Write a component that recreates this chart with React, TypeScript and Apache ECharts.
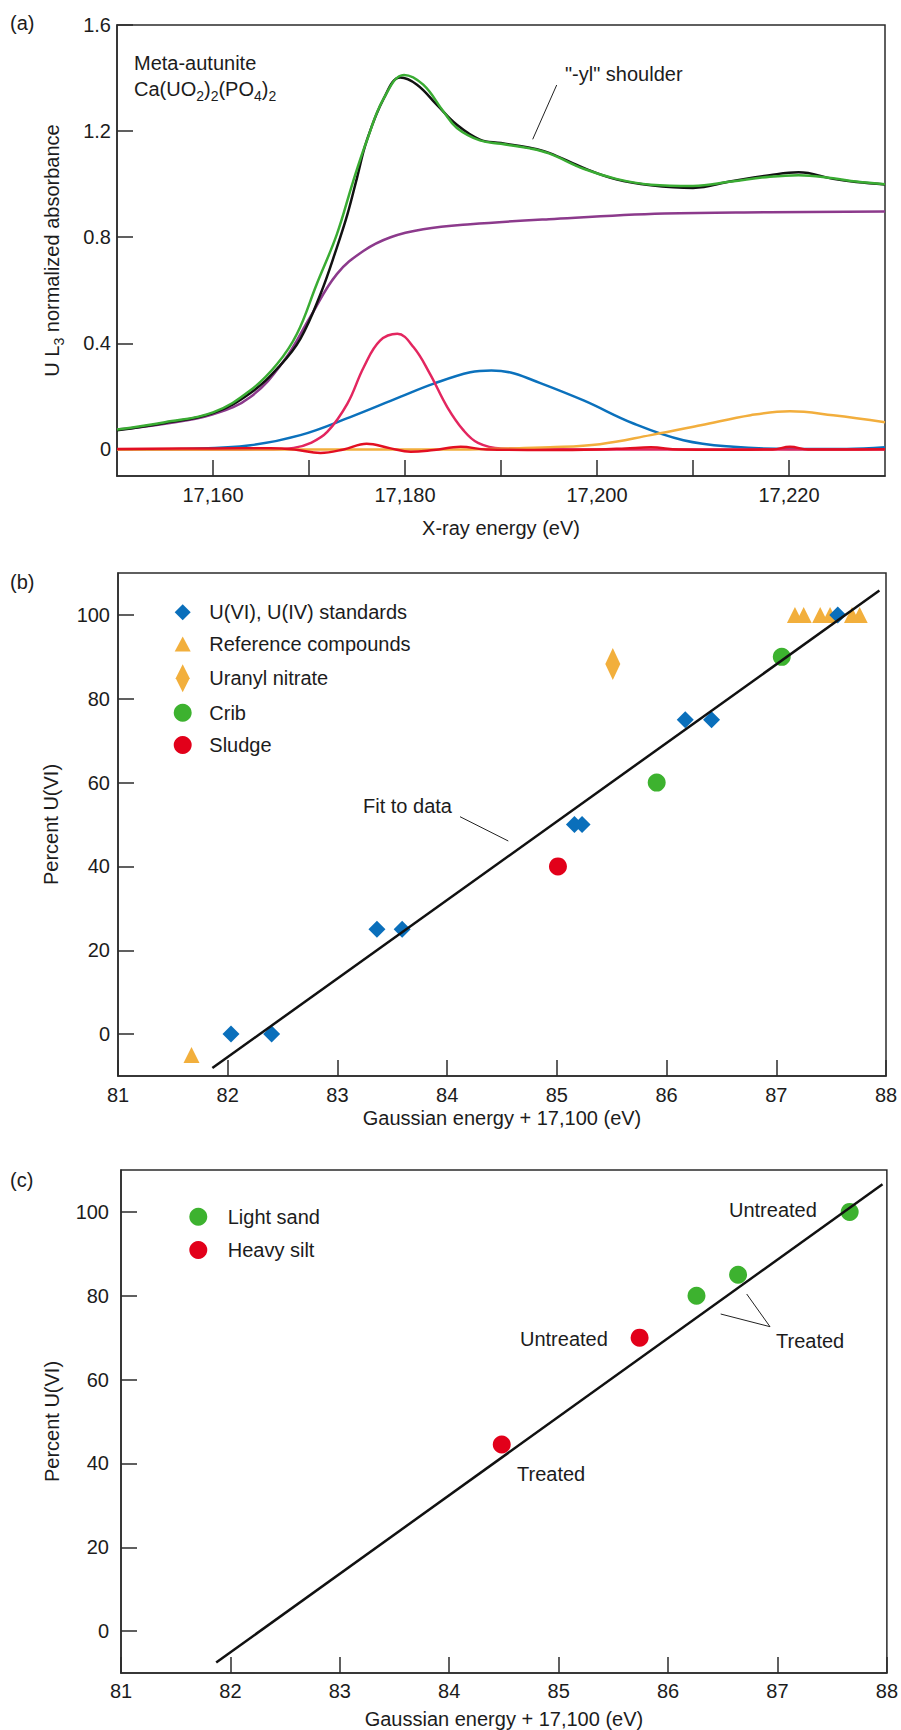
import React, { useEffect, useRef } from "react";
import * as echarts from "echarts";

const FONT = "'Liberation Sans', Arial, Helvetica, sans-serif";
const TXT = "#1c1c1c";
const AXC = "#2b2b2b";

// ---------------- Panel (a): meta-autunite U L3 spectrum and fit components ----------------
const dataE = [17150, 17155, 17160, 17163.9, 17167, 17169.1, 17171.2, 17172.9, 17174, 17175, 17176, 17177.8, 17179.5, 17181.25, 17183.3, 17185.4, 17187.8, 17190, 17193, 17195, 17198.6, 17202, 17205.6, 17210, 17214, 17218, 17221, 17224.6, 17227, 17230];
const dataV = [0.072, 0.1, 0.137, 0.213, 0.317, 0.417, 0.586, 0.761, 0.886, 1.024, 1.162, 1.324, 1.402, 1.375, 1.3, 1.224, 1.168, 1.155, 1.137, 1.118, 1.061, 1.018, 0.996, 0.986, 1.011, 1.034, 1.045, 1.02, 1.008, 0.999];

const fitE = [17150, 17155, 17160, 17163.9, 17166.7, 17168.75, 17170.8, 17172.9, 17174.6, 17176, 17177.8, 17179.9, 17181.9, 17184, 17185.4, 17187.8, 17190, 17193, 17195, 17198.6, 17202, 17205.6, 17210, 17214, 17218, 17221, 17224.6, 17227, 17230];
const fitV = [0.075, 0.103, 0.14, 0.223, 0.323, 0.436, 0.623, 0.811, 1.011, 1.162, 1.324, 1.412, 1.375, 1.274, 1.212, 1.165, 1.152, 1.135, 1.116, 1.058, 1.02, 0.998, 0.993, 1.01, 1.028, 1.034, 1.022, 1.01, 1.0];

const stepE = [17150, 17155, 17160, 17163.9, 17167.4, 17170.1, 17172.9, 17175.7, 17178.5, 17181.9, 17186.8, 17195, 17207, 17218, 17230];
const stepV = [0.075, 0.097, 0.133, 0.198, 0.335, 0.498, 0.661, 0.749, 0.8, 0.83, 0.849, 0.868, 0.889, 0.894, 0.897];

const peak1E = [17150, 17160, 17166, 17168.4, 17170.2, 17171.9, 17174, 17175.7, 17177.4, 17179.2, 17180.9, 17182.6, 17184.4, 17186.1, 17187.6, 17190, 17200, 17230];
const peak1V = [0, 0, 0.001, 0.006, 0.025, 0.066, 0.173, 0.31, 0.41, 0.436, 0.385, 0.285, 0.16, 0.072, 0.025, 0.004, 0, 0];

const peak2E = [17150, 17158, 17163.9, 17169.1, 17174.3, 17179.5, 17183, 17186.8, 17189, 17191, 17193.4, 17198.6, 17203.8, 17209, 17214.2, 17220, 17226, 17230];
const peak2V = [0, 0.003, 0.016, 0.054, 0.122, 0.198, 0.248, 0.291, 0.298, 0.29, 0.26, 0.185, 0.098, 0.035, 0.01, 0.002, 0.002, 0.008];

const peak3E = [17150, 17185, 17190, 17195.1, 17200.3, 17205.6, 17210.8, 17216, 17220.1, 17224.6, 17230];
const peak3V = [0, 0, 0.003, 0.008, 0.02, 0.054, 0.091, 0.129, 0.144, 0.129, 0.103];

const residE = [17150, 17160, 17166, 17168.5, 17171.2, 17173.6, 17176, 17178.4, 17180.6, 17183, 17185.8, 17188.5, 17195, 17200, 17203, 17205.6, 17208.5, 17213, 17218.3, 17220.1, 17222, 17226, 17230];
const residV = [0.002, 0.004, 0.005, 0, -0.013, 0, 0.022, 0.005, -0.009, -0.002, 0.01, 0, -0.002, 0, 0.004, 0.008, 0, -0.001, 0, 0.01, 0, 0, 0.001];

const aXTicks = [17160, 17170, 17180, 17190, 17200, 17210, 17220];
const aXLabels = [17160, 17180, 17200, 17220];
const aYTicks = [0, 0.4, 0.8, 1.2, 1.6];

// ---------------- Panel (b) ----------------
const stdX = [82.03, 82.4, 83.36, 83.59, 85.16, 85.23, 86.17, 86.41, 87.56];
const stdY = [0, 0, 25, 25, 50, 50, 75, 75, 100];
const refX = [81.67, 87.17, 87.25, 87.4, 87.49, 87.69, 87.76];
const refY = [-5, 100, 100, 100, 100, 100, 100];
const uranylX = [85.51];
const uranylY = [88.3];
const cribX = [85.91, 87.05];
const cribY = [60, 90];
const sludgeX = [85.01];
const sludgeY = [40];
const fitBX = [81.86, 87.94];
const fitBY = [-8.1, 105.8];

// ---------------- Panel (c) ----------------
const sandX = [86.26, 86.64, 87.66];
const sandY = [80, 85, 100];
const siltX = [84.48, 85.74];
const siltY = [44.5, 70];
const fitCX = [81.87, 87.96];
const fitCY = [-7.5, 106.6];

const pctTicks = [0, 20, 40, 60, 80, 100];
const gaussTicks = [81, 82, 83, 84, 85, 86, 87, 88];

const C = {
  black: "#111111",
  green: "#3aac33",
  purple: "#8c3a8c",
  pink: "#e3265f",
  blue: "#0b71bc",
  orange: "#f2ae3d",
  red: "#e20f22",
  dBlue: "#0a6fbb",
  dOrange: "#f2af3c",
  dGreen: "#3db22f",
  dRed: "#e2001a",
};

const zip = (xs: number[], ys: number[]) => xs.map((x, i) => [x, ys[i]]);

const textStyle = (extra: any = {}) => ({ fontFamily: FONT, fontSize: 20, color: TXT, ...extra });

function xAxisCfg(gridIndex: number, min: number, max: number, ticks: number[], labels: number[], fmt: (v: number) => string, name: string, nameGap: number, margin: number) {
  return {
    type: "value",
    gridIndex,
    min,
    max,
    axisLine: { show: true, onZero: false, lineStyle: { color: AXC, width: 1.5 } },
    axisTick: { show: true, inside: true, length: 16, customValues: ticks, lineStyle: { color: AXC, width: 1.5 } },
    axisLabel: { show: true, customValues: labels, formatter: fmt, margin, ...textStyle({ lineHeight: 20 }) },
    splitLine: { show: false },
    name,
    nameLocation: "middle",
    nameGap,
    nameTextStyle: textStyle({ lineHeight: 20 }),
  };
}

function yAxisCfg(gridIndex: number, min: number, max: number, ticks: number[], labels: number[], fmt: (v: number) => string, name: string, nameGap: number, margin: number, rich?: any) {
  return {
    type: "value",
    gridIndex,
    min,
    max,
    axisLine: { show: true, onZero: false, lineStyle: { color: AXC, width: 1.5 } },
    axisTick: { show: true, inside: true, length: 16, customValues: ticks, lineStyle: { color: AXC, width: 1.5 } },
    axisLabel: { show: true, customValues: labels, formatter: fmt, margin, ...textStyle({ lineHeight: 20 }) },
    splitLine: { show: false },
    name,
    nameLocation: "middle",
    nameGap,
    nameRotate: 90,
    nameTextStyle: rich ? textStyle({ rich }) : textStyle({ lineHeight: 20 }),
  };
}

function lineSeries(name: string, xs: number[], ys: number[], color: string, axis: number, width = 2.5, smooth: any = 0.4) {
  return {
    type: "line",
    name,
    xAxisIndex: axis,
    yAxisIndex: axis,
    data: zip(xs, ys),
    smooth,
    symbol: "none",
    showSymbol: false,
    silent: true,
    lineStyle: { color, width },
    itemStyle: { color },
  };
}

function scatterSeries(name: string, xs: number[], ys: number[], symbol: string, size: any, color: string, axis: number) {
  return {
    type: "scatter",
    name,
    xAxisIndex: axis,
    yAxisIndex: axis,
    data: zip(xs, ys),
    symbol,
    symbolSize: size,
    silent: true,
    itemStyle: { color, opacity: 1 },
  };
}

function legendItem(name: string, cx: number, cy: number, w: number, h: number, textLeft: number) {
  return {
    data: [name],
    orient: "vertical",
    selectedMode: false,
    padding: 0,
    left: cx - w / 2,
    top: cy - Math.max(h, 20) / 2,
    itemWidth: w,
    itemHeight: h,
    itemGap: 0,
    textStyle: textStyle({ lineHeight: 20, padding: [0, 0, 0, textLeft - (cx + w / 2 + 5)] }),
  };
}

function gtext(text: string, x: number, y: number, extra: any = {}) {
  return {
    type: "text",
    x,
    y,
    silent: true,
    style: {
      text,
      fontFamily: FONT,
      fontSize: 20,
      fill: TXT,
      align: "left",
      verticalAlign: "middle",
      textAlign: "left",
      textVerticalAlign: "middle",
      ...extra,
    },
  };
}

function gline(x1: number, y1: number, x2: number, y2: number) {
  return { type: "line", silent: true, shape: { x1, y1, x2, y2 }, style: { stroke: "#222", lineWidth: 1 } };
}

const fmtComma = (v: number) => String(Math.round(v)).replace(/\B(?=(\d{3})+(?!\d))/g, ",");
const fmtA = (v: number) => (v === 0 ? "0" : v.toFixed(1));
const fmtInt = (v: number) => String(Math.round(v));

function buildOption() {
  const subRich = {
    n: { fontFamily: FONT, fontSize: 20, color: TXT, lineHeight: 28, verticalAlign: "middle" },
    s: { fontFamily: FONT, fontSize: 14, color: TXT, verticalAlign: "bottom" },
  };
  const subRichG = {
    n: { fontFamily: FONT, fontSize: 20, fill: TXT, lineHeight: 28, verticalAlign: "middle" },
    s: { fontFamily: FONT, fontSize: 14, fill: TXT, verticalAlign: "bottom" },
  };

  return {
    animation: false,
    backgroundColor: "#ffffff",
    grid: [
      { left: 117, top: 25, width: 768, height: 451, show: true, borderColor: AXC, borderWidth: 1.5, backgroundColor: "transparent" },
      { left: 118, top: 573, width: 768, height: 503, show: true, borderColor: AXC, borderWidth: 1.5, backgroundColor: "transparent" },
      { left: 121, top: 1170, width: 767, height: 504, show: true, borderColor: AXC, borderWidth: 1.5, backgroundColor: "transparent" },
    ],
    xAxis: [
      xAxisCfg(0, 17150, 17230, aXTicks, aXLabels, fmtComma, "X-ray energy (eV)", 42, 9),
      xAxisCfg(1, 81, 88, gaussTicks, gaussTicks, fmtInt, "Gaussian energy + 17,100 (eV)", 32, 9),
      xAxisCfg(2, 81, 88, gaussTicks, gaussTicks, fmtInt, "Gaussian energy + 17,100 (eV)", 36, 8),
    ],
    yAxis: [
      yAxisCfg(0, -0.1, 1.6, aYTicks, aYTicks, fmtA, "{n|U L}{s|3}{n| normalized absorbance}", 51, 6, subRich),
      yAxisCfg(1, -10, 110, pctTicks, pctTicks, fmtInt, "Percent U(VI)", 57, 8),
      yAxisCfg(2, -10, 110, pctTicks, pctTicks, fmtInt, "Percent U(VI)", 59, 12),
    ],
    legend: [
      legendItem("U(VI), U(IV) standards", 182.7, 612.3, 16, 16, 209.3),
      legendItem("Reference compounds", 182.7, 644, 16, 15, 209.3),
      legendItem("Uranyl nitrate", 182.7, 678.3, 14, 28, 209.3),
      legendItem("Crib", 182.7, 712.7, 18, 18, 209.3),
      legendItem("Sludge", 182.7, 745, 18, 18, 209.3),
      legendItem("Light sand", 198.3, 1216.7, 18, 18, 227.7),
      legendItem("Heavy silt", 198.3, 1250, 18, 18, 227.7),
    ],
    series: [
      lineSeries("Arctangent step", stepE, stepV, C.purple, 0),
      lineSeries("Gaussian 2", peak2E, peak2V, C.blue, 0),
      lineSeries("Gaussian 1", peak1E, peak1V, C.pink, 0),
      lineSeries("Gaussian 3", peak3E, peak3V, C.orange, 0),
      lineSeries("Data", dataE, dataV, C.black, 0),
      lineSeries("Fit", fitE, fitV, C.green, 0),
      lineSeries("Residual", residE, residV, C.red, 0),

      scatterSeries("Reference compounds", refX, refY, "triangle", 16, C.dOrange, 1),
      scatterSeries("Uranyl nitrate", uranylX, uranylY, "diamond", [15, 32], C.dOrange, 1),
      scatterSeries("Crib", cribX, cribY, "circle", 18, C.dGreen, 1),
      scatterSeries("Sludge", sludgeX, sludgeY, "circle", 18, C.dRed, 1),
      scatterSeries("U(VI), U(IV) standards", stdX, stdY, "diamond", 17, C.dBlue, 1),
      lineSeries("Fit to data", fitBX, fitBY, C.black, 1, 2.5, false),

      scatterSeries("Light sand", sandX, sandY, "circle", 18, C.dGreen, 2),
      scatterSeries("Heavy silt", siltX, siltY, "circle", 18, C.dRed, 2),
      lineSeries("Fit line (c)", fitCX, fitCY, C.black, 2, 2.5, false),
    ],
    graphic: [
      gtext("(a)", 10, 23),
      gtext("Meta-autunite", 134, 63),
      {
        type: "text",
        x: 134,
        y: 75,
        silent: true,
        style: {
          text: "{n|Ca(UO}{s|2}{n|)}{s|2}{n|(PO}{s|4}{n|)}{s|2}",
          rich: subRichG,
          fontFamily: FONT,
          fontSize: 20,
          fill: TXT,
          align: "left",
          verticalAlign: "top",
        },
      },
      gtext("\"-yl\" shoulder", 565, 74),
      gline(556.7, 85, 532.7, 139.3),

      gtext("(b)", 10, 582),
      gtext("Fit to data", 363, 806),
      gline(460, 816.7, 508.3, 841),

      gtext("(c)", 10, 1180),
      gtext("Untreated", 729, 1210),
      gtext("Untreated", 520, 1339),
      gtext("Treated", 776, 1341),
      gline(720.7, 1314, 770, 1326.7),
      gline(746.7, 1294, 770, 1326.7),
      gtext("Treated", 517, 1474),
    ],
  };
}

export default function App() {
  const ref = useRef<HTMLDivElement>(null);
  useEffect(() => {
    if (!ref.current) return;
    const chart = echarts.init(ref.current, null, { renderer: "svg" });
    chart.setOption(buildOption() as any);
    return () => chart.dispose();
  }, []);
  return (
    <div
      ref={ref}
      style={{ position: "absolute", left: 0, top: 0, width: 901, height: 1730, background: "#ffffff" }}
    />
  );
}
